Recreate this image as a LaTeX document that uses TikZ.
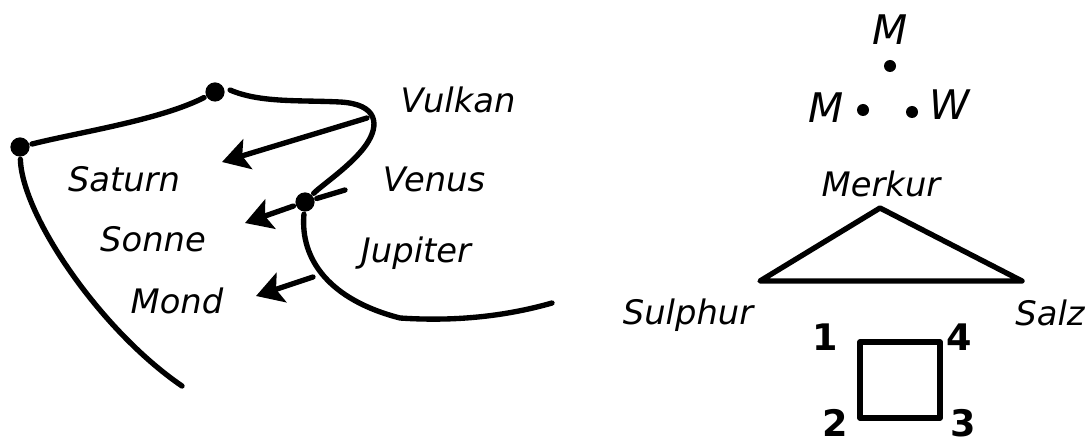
\documentclass[tikz,border=0pt]{standalone}
\usepackage{fontspec}
\setmainfont{DejaVu Sans}
\usetikzlibrary{arrows.meta,positioning}

\begin{document}
\begin{tikzpicture}[
  x=0.025cm, y=-0.025cm,
  line width=3.8pt, line cap=round, line join=round,
  bigdot/.style={circle,fill,inner sep=0pt,minimum size=0.48cm},
  smalldot/.style={circle,fill,inner sep=0pt,minimum size=0.3cm},
  lbl/.style={font=\fontsize{24}{28}\selectfont\itshape,anchor=base,inner sep=0pt},
  sym/.style={font=\fontsize{29}{34}\selectfont\itshape,anchor=base,inner sep=0pt},
  num/.style={font=\fontsize{26}{30}\selectfont\bfseries,anchor=base,inner sep=0pt},
  arr/.style={-{Stealth[length=19pt,width=22pt,inset=4pt]}},
]
  \useasboundingbox (0,0) rectangle (1086,446);

  %% left: the planetary curves
  \node[bigdot] (dsat) at (20,147) {};
  \node[bigdot] (dtop) at (215,92) {};
  \node[bigdot] (dven) at (305,202) {};
  \coordinate (lowend) at (182,386);
  \coordinate (vtop) at (230,90);
  \coordinate (vk) at (367,118);
  \coordinate (jupend) at (552,303);
  \coordinate (venend) at (345,190);
  \coordinate (satin) at (222,162);
  \coordinate (sonin) at (245,223);
  \coordinate (mondout) at (313,277);
  \coordinate (mondin) at (256,296);

  \draw (dsat) .. controls (80,132) and (160,120) .. (dtop);
  \draw (dsat) .. controls (22,215) and (100,330) .. (lowend);
  \draw (vtop) .. controls (260,103) and (300,100) .. (340,102)
               .. controls (378,104) and (380,125) .. (366,145)
               .. controls (352,165) and (322,185) .. (dven);
  \draw (dven) .. controls (300,260) and (330,300) .. (400,318)
               .. controls (460,322) and (510,315) .. (jupend);
  \draw (dven) -- (venend);
  \draw[arr] (vk) -- (satin);
  \draw[arr] (dven) -- (sonin);
  \draw[arr] (mondout) -- (mondin);

  \node[lbl] (vulkan) at (458,113) {Vulkan};
  \node[lbl] (saturn) at (124,192) {Saturn};
  \node[lbl] (venus) at (434,192) {Venus};
  \node[lbl] (sonne) at (153,252) {Sonne};
  \node[lbl] (jupiter) at (416,263) {Jupiter};
  \node[lbl] (mond) at (177,313) {Mond};

  %% right: M, M, W
  \node[sym] (mtop) at (890,45) {M};
  \node[smalldot] (dmtop) at (890,66) {};
  \node[sym] (mleft) at (826,123) {M};
  \node[smalldot] (dmleft) at (863,110) {};
  \node[smalldot] (dw) at (912,112) {};
  \node[sym] (wright) at (950,120) {W};

  %% triangle
  \coordinate (apex) at (880,208);
  \coordinate (tleft) at (760,281);
  \coordinate (tright) at (1022,281);
  \draw (apex) -- (tleft) -- (tright) -- cycle;
  \node[lbl] (merkur) at (881,197) {Merkur};
  \node[lbl] (sulphur) at (688,324) {Sulphur};
  \node[lbl] (salz) at (1050,325) {Salz};

  %% square
  \node[draw,line width=4pt,minimum width=2cm,minimum height=1.9cm] (sq) at (900,380) {};
  \node[num] (n1) at (825,350) {1};
  \node[num] (n4) at (959,350) {4};
  \node[num] (n2) at (835,436) {2};
  \node[num] (n3) at (963,436) {3};
\end{tikzpicture}
\end{document}
